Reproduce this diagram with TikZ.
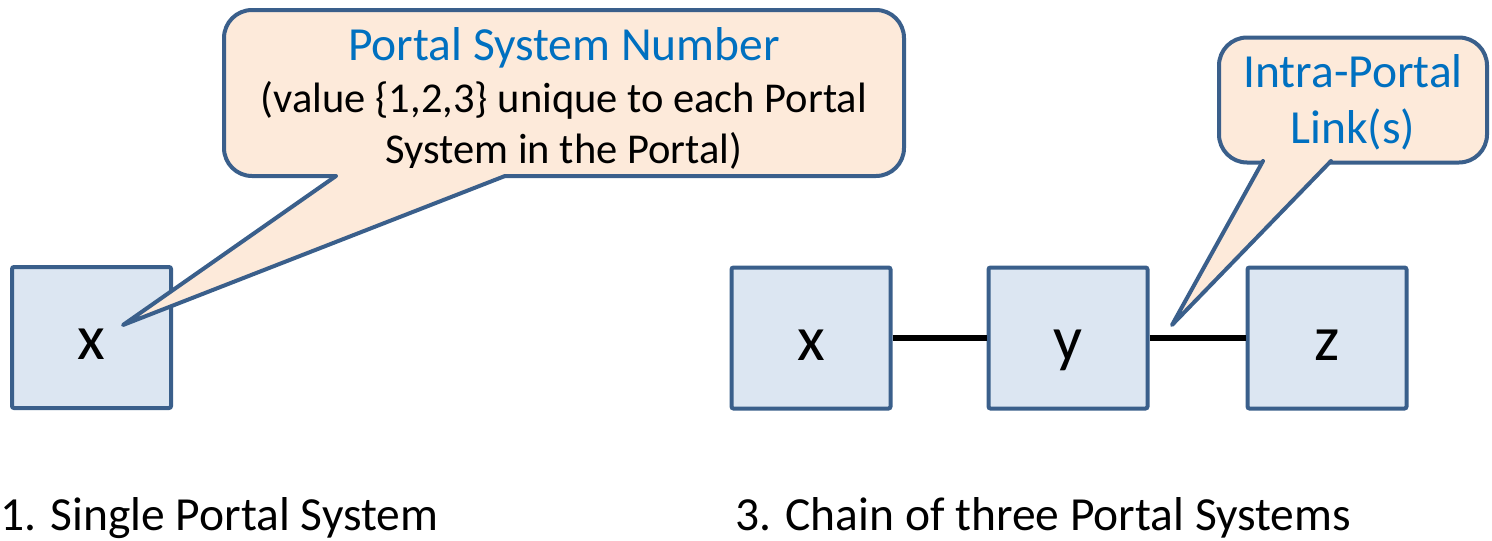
\documentclass[tikz,border=0pt]{standalone}
\usepackage{fontspec}
\setmainfont{Carlito}
\usetikzlibrary{positioning}
\definecolor{boxfill}{HTML}{DCE6F2}
\definecolor{boxline}{HTML}{3A5F8B}
\definecolor{notefill}{HTML}{FDEADA}
\definecolor{noteblue}{HTML}{0070C0}
\tikzset{
  system/.style={draw=boxline,fill=boxfill,line width=4pt,rounded corners=2pt,
    minimum width=159pt,minimum height=141pt,
    font=\fontsize{64}{64}\selectfont,text height=50pt,text depth=6pt},
  note/.style={draw=boxline,fill=notefill,line width=4pt,rounded corners=28pt,
    align=center,inner sep=0pt,font=\fontsize{42.5}{51}\selectfont},
  pointer/.style={draw=boxline,line width=4pt,line join=round,line cap=round},
  link/.style={line width=6pt},
  caption/.style={font=\fontsize{47.5}{54}\selectfont,anchor=base west,inner sep=0pt}
}
\newcommand{\notehead}[1]{{\fontsize{47.5}{51}\selectfont\color{noteblue}#1}}
\begin{document}
\begin{tikzpicture}[x=1pt,y=-1pt]
        \useasboundingbox (0,0) rectangle (1492,541);
        %% Single system
        \node[system] (x1) at (91.5,337.5) {x};
        %% Chain of three
        \node[system] (x2) at (811,338) {x};
        \node[system,right=94pt of x2] (y) {y};
        \node[system,right=96pt of y] (z) {z};
        \draw[link] (x2) -- (y);
        \draw[link] (y) -- (z);
        %% Callout: number
        \node[note,minimum width=680pt,minimum height=166pt] (num) at (564,93)
            {\rule{0pt}{44pt}\notehead{Portal System Number}\\[1pt](value \{1,2,3\} unique to each Portal\\System in the Portal)};
        \coordinate (num tip) at (123,325);
        \fill[notefill] (336,168) -- (336,176) -- (num tip) -- (505,176) -- (505,168) -- cycle;
        \draw[pointer] (336,176) -- (num tip) -- (505,176);
        %% Callout: link
        \node[note,minimum width=268pt,minimum height=125pt] (ipl) at (1353,100)
            {\rule{0pt}{38pt}\notehead{Intra-Portal}\\[5pt]\notehead{Link(s)}};
        \coordinate (ipl tip) at (1172,325);
        \fill[notefill] (1263,155) -- (1263,161) -- (ipl tip) -- (1331,161) -- (1331,155) -- cycle;
        \draw[pointer] (1263,161) -- (ipl tip) -- (1331,161);
        %% Captions
        \node[caption] (c1) at (0,530) {1. Single Portal System};
        \node[caption] (c3) at (735,530) {3. Chain of three Portal Systems};
\end{tikzpicture}
\end{document}
